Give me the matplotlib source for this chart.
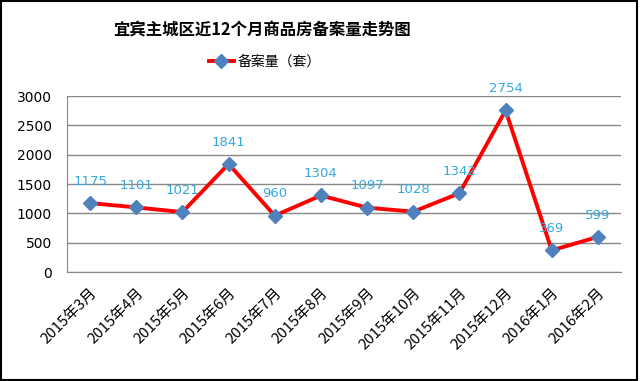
import matplotlib
matplotlib.use("Agg")
import matplotlib.pyplot as plt
from matplotlib.patches import Rectangle

plt.rcParams["font.family"] = ["Noto Sans CJK SC", "DejaVu Sans"]

# Chart data
months = ["2015年3月", "2015年4月", "2015年5月", "2015年6月", "2015年7月", "2015年8月",
          "2015年9月", "2015年10月", "2015年11月", "2015年12月", "2016年1月", "2016年2月"]
filings = [1175, 1101, 1021, 1841, 960, 1304, 1097, 1028, 1342, 2754, 369, 599]
y_ticks = [0, 500, 1000, 1500, 2000, 2500, 3000]

TITLE = "宜宾主城区近12个月商品房备案量走势图"
SERIES_NAME = "备案量（套）"

LINE_COLOR = "#FF0000"
MARKER_COLOR = "#4F81BD"
LABEL_COLOR = "#35A9DD"
GRID_COLOR = "#888888"

fig = plt.figure(figsize=(6.4, 3.81), dpi=100)
ax = fig.add_axes([67 / 640, 1 - 272 / 381, (621 - 67) / 640, (272 - 96) / 381])

x = list(range(len(months)))
ax.plot(x, filings, color=LINE_COLOR, linewidth=2.8, marker="D", markersize=7,
        markerfacecolor=MARKER_COLOR, markeredgecolor=MARKER_COLOR, label=SERIES_NAME,
        zorder=3)

for xi, v in zip(x, filings):
    ax.annotate(str(v), (xi, v), xytext=(0, 11), textcoords="offset points",
                ha="center", va="bottom", color=LABEL_COLOR, fontsize=9.5,
                family=["DejaVu Sans"], zorder=4)

ax.set_xlim(-0.5, len(months) - 0.5)
ax.set_ylim(0, 3000)
ax.set_yticks(y_ticks)
ax.set_yticklabels([str(t) for t in y_ticks], fontsize=10, family=["DejaVu Sans"])
ax.set_xticks(x)
ax.set_xticklabels(months, rotation=45, ha="right", rotation_mode="anchor", fontsize=10.8)
ax.tick_params(axis="y", length=0, pad=11)
ax.tick_params(axis="x", length=0, pad=10)

ax.grid(axis="y", color=GRID_COLOR, linewidth=1)
ax.set_axisbelow(True)
for side in ["top", "right"]:
    ax.spines[side].set_visible(False)
ax.spines["left"].set_color(GRID_COLOR)
ax.spines["bottom"].set_color(GRID_COLOR)

fig.text(262 / 640, 1 - 30 / 381, TITLE, ha="center", va="center", fontsize=11.8,
         fontweight="bold")
fig.legend(loc="center", bbox_to_anchor=(265 / 640, 1 - 62 / 381), frameon=False, fontsize=10,
           handlelength=1.8, handletextpad=0.3)

fig.patches.append(Rectangle((0.002, 0.003), 0.994, 0.994, transform=fig.transFigure,
                             fill=False, edgecolor="black", linewidth=1.5))

fig.savefig("out.png", dpi=100)
